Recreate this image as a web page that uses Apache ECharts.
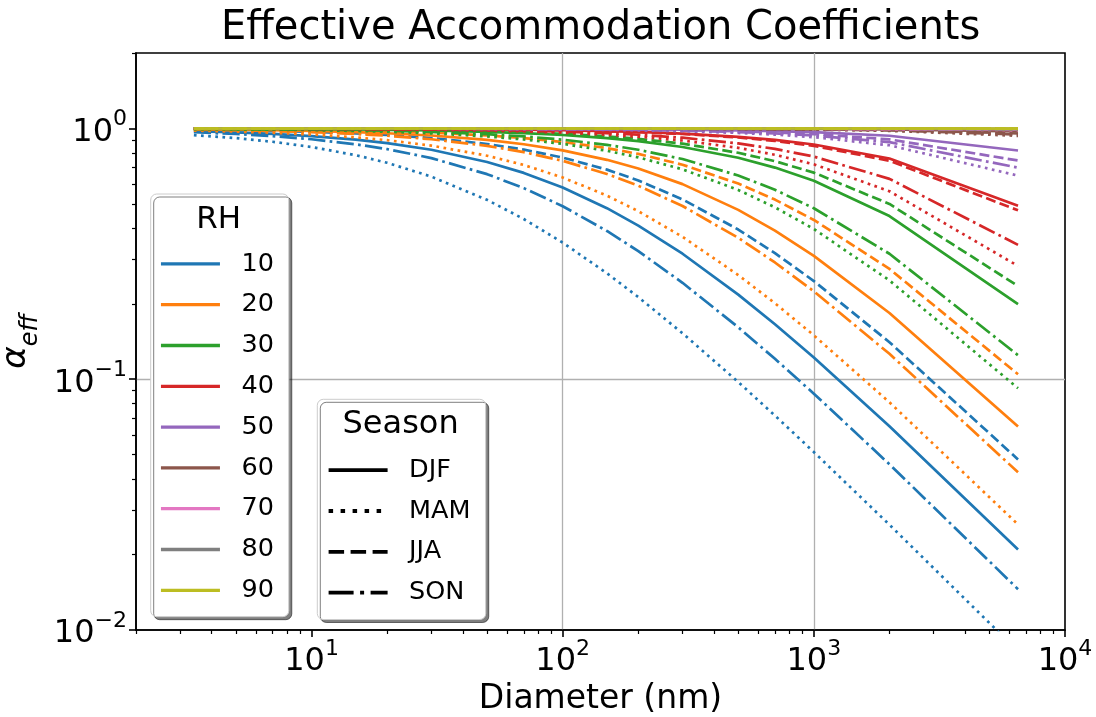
<!DOCTYPE html>
<html>
<head>
<meta charset="utf-8">
<script src="https://cdn.jsdelivr.net/npm/echarts@6/dist/echarts.min.js"></script>
<style>
html,body{margin:0;padding:0;background:#ffffff;}
#chart{width:1096px;height:717px;}
</style>
</head>
<body>
<div id="chart"></div>
<script>
// ---------------- data ----------------
const diameters = [3.4, 5, 7, 10, 15, 20, 30, 50, 70, 100, 150, 200, 300, 500, 700, 1000, 2000, 6500];
const rhLevels = ['10', '20', '30', '40', '50', '60', '70', '80', '90'];
const seasons = ['DJF', 'MAM', 'JJA', 'SON'];

const xTickValues = [10, 100, 1000, 10000];
const xTickExps = ['1', '2', '3', '4'];
const xMinorValues = [2, 3, 4, 5, 6, 7, 8, 9, 20, 30, 40, 50, 60, 70, 80, 90, 200, 300, 400, 500, 600, 700, 800, 900, 2000, 3000, 4000, 5000, 6000, 7000, 8000, 9000];
const yTickValues = [0.01, 0.1, 1];
const yTickExps = ['\u22122', '\u22121', '0'];
const yMinorValues = [0.02, 0.03, 0.04, 0.05, 0.06, 0.07, 0.08, 0.09, 0.2, 0.3, 0.4, 0.5, 0.6, 0.7, 0.8, 0.9, 2];

const rh10_DJF = [0.9761, 0.9653, 0.9521, 0.9329, 0.9026, 0.8742, 0.8225, 0.7354, 0.6651, 0.5816, 0.4810, 0.4100, 0.3166, 0.2175, 0.1657, 0.1220, 0.06499, 0.02094];
const rh10_MAM = [0.9408, 0.9153, 0.8852, 0.8438, 0.7826, 0.7297, 0.6429, 0.5192, 0.4355, 0.3506, 0.2647, 0.2126, 0.1525, 0.09747, 0.07163, 0.05123, 0.02629, 0.008237];
const rh10_JJA = [0.9897, 0.9849, 0.9790, 0.9703, 0.9561, 0.9424, 0.9160, 0.8674, 0.8237, 0.7658, 0.6855, 0.6205, 0.5215, 0.3954, 0.3184, 0.2464, 0.1405, 0.04789];
const rh10_SON = [0.9658, 0.9505, 0.9320, 0.9057, 0.8649, 0.8276, 0.7619, 0.6575, 0.5783, 0.4898, 0.3902, 0.3243, 0.2424, 0.1611, 0.1206, 0.08759, 0.04580, 0.01455];

const rh20_DJF = [0.9925, 0.9890, 0.9847, 0.9783, 0.9677, 0.9574, 0.9375, 0.9000, 0.8654, 0.8182, 0.7500, 0.6923, 0.6000, 0.4737, 0.3913, 0.3103, 0.1837, 0.06475];
const rh20_MAM = [0.9810, 0.9724, 0.9618, 0.9462, 0.9215, 0.8980, 0.8544, 0.7788, 0.7154, 0.6377, 0.5399, 0.4681, 0.3697, 0.2604, 0.2009, 0.1497, 0.08090, 0.02636];
const rh20_JJA = [0.9955, 0.9935, 0.9909, 0.9870, 0.9806, 0.9744, 0.9620, 0.9383, 0.9157, 0.8837, 0.8352, 0.7917, 0.7170, 0.6032, 0.5205, 0.4318, 0.2754, 0.1047];
const rh20_SON = [0.9884, 0.9830, 0.9764, 0.9666, 0.9507, 0.9353, 0.9060, 0.8525, 0.8050, 0.7429, 0.6583, 0.5910, 0.4907, 0.3663, 0.2922, 0.2242, 0.1263, 0.04257];

const rh30_DJF = [0.9979, 0.9969, 0.9957, 0.9939, 0.9908, 0.9878, 0.9818, 0.9701, 0.9586, 0.9419, 0.9153, 0.8901, 0.8438, 0.7642, 0.6983, 0.6183, 0.4475, 0.1995];
const rh30_MAM = [0.9949, 0.9925, 0.9895, 0.9851, 0.9777, 0.9705, 0.9565, 0.9295, 0.9040, 0.8683, 0.8146, 0.7672, 0.6872, 0.5686, 0.4849, 0.3973, 0.2478, 0.09206];
const rh30_JJA = [0.9983, 0.9975, 0.9965, 0.9950, 0.9926, 0.9901, 0.9852, 0.9756, 0.9662, 0.9524, 0.9302, 0.9091, 0.8696, 0.8000, 0.7407, 0.6667, 0.5000, 0.2353];
const rh30_SON = [0.9963, 0.9946, 0.9925, 0.9893, 0.9841, 0.9789, 0.9686, 0.9488, 0.9297, 0.9025, 0.8606, 0.8224, 0.7553, 0.6494, 0.5695, 0.4808, 0.3165, 0.1247];

const rh40_DJF = [0.9995, 0.9992, 0.9989, 0.9984, 0.9976, 0.9968, 0.9953, 0.9921, 0.9890, 0.9844, 0.9767, 0.9692, 0.9545, 0.9265, 0.9000, 0.8630, 0.7590, 0.4922];
const rh40_MAM = [0.9987, 0.9981, 0.9973, 0.9961, 0.9942, 0.9923, 0.9884, 0.9809, 0.9734, 0.9625, 0.9448, 0.9277, 0.8953, 0.8369, 0.7857, 0.7196, 0.5620, 0.2830];
const rh40_JJA = [0.9994, 0.9991, 0.9988, 0.9983, 0.9974, 0.9966, 0.9949, 0.9915, 0.9881, 0.9831, 0.9748, 0.9667, 0.9508, 0.9206, 0.8923, 0.8529, 0.7436, 0.4715];
const rh40_SON = [0.9990, 0.9985, 0.9979, 0.9971, 0.9956, 0.9942, 0.9913, 0.9855, 0.9798, 0.9714, 0.9577, 0.9444, 0.9189, 0.8718, 0.8293, 0.7727, 0.6296, 0.3434];

const rh50_DJF = [0.9999, 0.9998, 0.9998, 0.9997, 0.9995, 0.9993, 0.9990, 0.9983, 0.9976, 0.9966, 0.9949, 0.9932, 0.9898, 0.9831, 0.9764, 0.9667, 0.9355, 0.8169];
const rh50_MAM = [0.9997, 0.9996, 0.9994, 0.9992, 0.9988, 0.9983, 0.9975, 0.9959, 0.9942, 0.9917, 0.9877, 0.9836, 0.9756, 0.9600, 0.9449, 0.9231, 0.8571, 0.6486];
const rh50_JJA = [0.9998, 0.9997, 0.9996, 0.9995, 0.9992, 0.9989, 0.9984, 0.9974, 0.9963, 0.9948, 0.9922, 0.9896, 0.9845, 0.9744, 0.9645, 0.9500, 0.9048, 0.7451];
const rh50_SON = [0.9998, 0.9997, 0.9995, 0.9993, 0.9990, 0.9987, 0.9980, 0.9967, 0.9954, 0.9934, 0.9901, 0.9868, 0.9804, 0.9677, 0.9554, 0.9375, 0.8824, 0.6977];

const rh60_DJF = [1.0, 1.0, 1.0, 1.0, 0.9999, 0.9999, 0.9999, 0.9998, 0.9997, 0.9996, 0.9994, 0.9992, 0.9988, 0.9980, 0.9972, 0.9960, 0.9921, 0.9747];
const rh60_MAM = [1.0, 0.9999, 0.9999, 0.9999, 0.9998, 0.9998, 0.9997, 0.9995, 0.9992, 0.9989, 0.9984, 0.9979, 0.9968, 0.9947, 0.9925, 0.9894, 0.9789, 0.9347];
const rh60_JJA = [1.0, 1.0, 1.0, 0.9999, 0.9999, 0.9999, 0.9998, 0.9996, 0.9995, 0.9993, 0.9989, 0.9986, 0.9978, 0.9964, 0.9950, 0.9928, 0.9857, 0.9550];
const rh60_SON = [1.0, 1.0, 0.9999, 0.9999, 0.9999, 0.9998, 0.9997, 0.9996, 0.9994, 0.9991, 0.9987, 0.9983, 0.9974, 0.9957, 0.9940, 0.9914, 0.9829, 0.9465];

const rh70_DJF = [1.0, 1.0, 1.0, 1.0, 1.0, 1.0, 1.0, 1.0, 0.9999, 0.9999, 0.9998, 0.9998, 0.9997, 0.9995, 0.9992, 0.9989, 0.9979, 0.9930];
const rh70_MAM = [1.0, 1.0, 1.0, 1.0, 1.0, 1.0, 0.9999, 0.9999, 0.9998, 0.9998, 0.9997, 0.9995, 0.9993, 0.9989, 0.9984, 0.9977, 0.9954, 0.9852];
const rh70_JJA = [1.0, 1.0, 1.0, 1.0, 1.0, 1.0, 1.0, 0.9999, 0.9999, 0.9998, 0.9997, 0.9997, 0.9995, 0.9992, 0.9988, 0.9983, 0.9966, 0.9891];
const rh70_SON = [1.0, 1.0, 1.0, 1.0, 1.0, 1.0, 1.0, 0.9999, 0.9999, 0.9998, 0.9997, 0.9996, 0.9994, 0.9990, 0.9986, 0.9980, 0.9960, 0.9872];

const rh80_DJF = [1.0, 1.0, 1.0, 1.0, 1.0, 1.0, 1.0, 1.0, 1.0, 1.0, 1.0, 1.0, 0.9999, 0.9998, 0.9997, 0.9995, 0.9991, 0.9970];
const rh80_MAM = [1.0, 1.0, 1.0, 1.0, 1.0, 1.0, 1.0, 1.0, 0.9999, 0.9999, 0.9998, 0.9998, 0.9997, 0.9995, 0.9992, 0.9989, 0.9979, 0.9930];
const rh80_JJA = [1.0, 1.0, 1.0, 1.0, 1.0, 1.0, 1.0, 1.0, 1.0, 0.9999, 0.9999, 0.9998, 0.9998, 0.9996, 0.9995, 0.9992, 0.9985, 0.9950];
const rh80_SON = [1.0, 1.0, 1.0, 1.0, 1.0, 1.0, 1.0, 1.0, 1.0, 0.9999, 0.9999, 0.9998, 0.9997, 0.9995, 0.9994, 0.9991, 0.9982, 0.9940];

const rh90_DJF = [1.0, 1.0, 1.0, 1.0, 1.0, 1.0, 1.0, 1.0, 1.0, 1.0, 1.0, 1.0, 1.0, 0.9999, 0.9999, 0.9998, 0.9997, 0.9990];
const rh90_MAM = [1.0, 1.0, 1.0, 1.0, 1.0, 1.0, 1.0, 1.0, 1.0, 1.0, 1.0, 1.0, 0.9999, 0.9998, 0.9997, 0.9995, 0.9991, 0.9970];
const rh90_JJA = [1.0, 1.0, 1.0, 1.0, 1.0, 1.0, 1.0, 1.0, 1.0, 1.0, 1.0, 0.9999, 0.9999, 0.9998, 0.9998, 0.9997, 0.9994, 0.9980];
const rh90_SON = [1.0, 1.0, 1.0, 1.0, 1.0, 1.0, 1.0, 1.0, 1.0, 1.0, 1.0, 0.9999, 0.9999, 0.9998, 0.9997, 0.9996, 0.9992, 0.9975];

// ---------------- styles ----------------
const FONT = '"DejaVu Sans", "Liberation Sans", sans-serif';
const rhColors = ['#1f77b4', '#ff7f0e', '#2ca02c', '#d62728', '#9467bd', '#8c564b', '#e377c2', '#7f7f7f', '#bcbd22'];
const LW = 2.7;
const seasonDash = {
  DJF: 'solid',
  MAM: [LW * 1.0, LW * 1.65],
  JJA: [LW * 3.7, LW * 1.6],
  SON: [LW * 6.4, LW * 1.6, LW * 1.0, LW * 1.6]
};
// legend handles are drawn thicker, so their dash pattern is longer
const legendDash = {
  DJF: 'solid',
  MAM: [4.5, 7.5],
  JJA: [15.5, 6.5],
  SON: [25, 6.5, 4, 6.5]
};

const valueTable = {
  '10': { DJF: rh10_DJF, MAM: rh10_MAM, JJA: rh10_JJA, SON: rh10_SON },
  '20': { DJF: rh20_DJF, MAM: rh20_MAM, JJA: rh20_JJA, SON: rh20_SON },
  '30': { DJF: rh30_DJF, MAM: rh30_MAM, JJA: rh30_JJA, SON: rh30_SON },
  '40': { DJF: rh40_DJF, MAM: rh40_MAM, JJA: rh40_JJA, SON: rh40_SON },
  '50': { DJF: rh50_DJF, MAM: rh50_MAM, JJA: rh50_JJA, SON: rh50_SON },
  '60': { DJF: rh60_DJF, MAM: rh60_MAM, JJA: rh60_JJA, SON: rh60_SON },
  '70': { DJF: rh70_DJF, MAM: rh70_MAM, JJA: rh70_JJA, SON: rh70_SON },
  '80': { DJF: rh80_DJF, MAM: rh80_MAM, JJA: rh80_JJA, SON: rh80_SON },
  '90': { DJF: rh90_DJF, MAM: rh90_MAM, JJA: rh90_JJA, SON: rh90_SON }
};

const series = [];
rhLevels.forEach(function (rh, i) {
  seasons.forEach(function (s) {
    const vals = valueTable[rh][s];
    series.push({
      type: 'line',
      name: 'RH' + rh + ' ' + s,
      data: diameters.map(function (d, k) { return [d, vals[k]]; }),
      symbol: 'none',
      silent: true,
      clip: true,
      lineStyle: { color: rhColors[i], width: LW, type: seasonDash[s], cap: 'butt' },
      itemStyle: { color: rhColors[i] },
      z: 2
    });
  });
});
// legend handle series (no data)
rhLevels.forEach(function (rh, i) {
  series.push({
    type: 'line', name: rh, data: [], symbol: 'none',
    lineStyle: { color: rhColors[i], width: 3.3, type: 'solid' },
    itemStyle: { color: rhColors[i] }
  });
});
seasons.forEach(function (s) {
  series.push({
    type: 'line', name: s, data: [], symbol: 'none',
    lineStyle: { color: '#000000', width: 3.8, type: legendDash[s], cap: 'butt' },
    itemStyle: { color: '#000000' }
  });
});

function powLabel(values, exps) {
  return function (v) {
    let idx = 0, best = Infinity;
    values.forEach(function (t, k) {
      const d = Math.abs(Math.log10(v) - Math.log10(t));
      if (d < best) { best = d; idx = k; }
    });
    return '{b|10}{s|' + exps[idx] + '}';
  };
}
const tickRich = {
  b: { fontSize: 32, fontFamily: FONT, color: '#000', lineHeight: 40, verticalAlign: 'bottom' },
  s: { fontSize: 22, fontFamily: FONT, color: '#000', lineHeight: 22, verticalAlign: 'top' }
};

const legendCommon = {
  orient: 'vertical',
  itemWidth: 59,
  itemHeight: 14,
  itemGap: 0,
  selectedMode: false,
  backgroundColor: '#ffffff',
  borderColor: '#cccccc',
  borderWidth: 1,
  borderRadius: 6,
  shadowColor: 'rgba(0,0,0,0.5)',
  shadowBlur: 0,
  shadowOffsetX: 3,
  shadowOffsetY: 3,
  itemStyle: { opacity: 0, color: 'rgba(0,0,0,0)', borderWidth: 0, borderColor: 'rgba(0,0,0,0)' },
  formatter: function (name) { return '{t|' + name + '}'; },
  textStyle: {
    color: '#000', fontSize: 25.5, fontFamily: FONT, lineHeight: 40.8,
    rich: { t: { color: '#000', fontSize: 25.5, fontFamily: FONT, lineHeight: 40.8, padding: [0, 0, 0, 16.5] } }
  }
};

const option = {
  animation: false,
  backgroundColor: '#ffffff',
  title: {
    text: 'Effective Accommodation Coefficients',
    left: 216,
    top: 4,
    textStyle: { fontSize: 40, fontWeight: 'normal', color: '#000', fontFamily: FONT }
  },
  grid: {
    left: 136, right: 31, top: 53, bottom: 87,
    show: true, borderColor: '#000', borderWidth: 1.6, backgroundColor: 'transparent',
    containLabel: false, outerBoundsMode: 'none'
  },
  xAxis: [
    {
      type: 'log', logBase: 10, min: 2, max: 10000, position: 'bottom',
      axisLine: { show: true, lineStyle: { color: '#000', width: 1.6 } },
      axisTick: { show: true, customValues: xTickValues, length: 7, lineStyle: { color: '#000', width: 1.6 } },
      axisLabel: { show: true, customValues: xTickValues, margin: 8, formatter: powLabel(xTickValues, xTickExps), rich: tickRich },
      splitLine: { show: true, showMinLine: false, showMaxLine: false, lineStyle: { color: '#b0b0b0', width: 1.3 } },
      minorTick: { show: false }, minorSplitLine: { show: false },
      name: 'Diameter (nm)', nameLocation: 'middle', nameGap: 50,
      nameTextStyle: { fontSize: 33, color: '#000', fontFamily: FONT }
    },
    {
      type: 'log', logBase: 10, min: 2, max: 10000, position: 'bottom',
      axisLine: { show: false },
      axisTick: { show: true, customValues: xMinorValues, length: 4, lineStyle: { color: '#000', width: 1.2 } },
      axisLabel: { show: false },
      splitLine: { show: false }
    }
  ],
  yAxis: [
    {
      type: 'log', logBase: 10, min: 0.01, max: 2, position: 'left',
      axisLine: { show: true, lineStyle: { color: '#000', width: 1.6 } },
      axisTick: { show: true, customValues: yTickValues, length: 7, lineStyle: { color: '#000', width: 1.6 } },
      axisLabel: { show: true, customValues: yTickValues, margin: 9, formatter: powLabel(yTickValues, yTickExps), rich: tickRich },
      splitLine: { show: true, showMinLine: false, showMaxLine: false, lineStyle: { color: '#b0b0b0', width: 1.3 } },
      name: '{a|\u03b1}{s|eff}', nameLocation: 'middle', nameRotate: 90, nameGap: 84,
      nameTextStyle: {
        color: '#000', fontFamily: FONT,
        rich: {
          a: { fontSize: 34, fontStyle: 'italic', fontFamily: FONT, color: '#000', lineHeight: 44, verticalAlign: 'top' },
          s: { fontSize: 24, fontStyle: 'italic', fontFamily: FONT, color: '#000', lineHeight: 24, verticalAlign: 'bottom' }
        }
      }
    },
    {
      type: 'log', logBase: 10, min: 0.01, max: 2, position: 'left',
      axisLine: { show: false },
      axisTick: { show: true, customValues: yMinorValues, length: 4, lineStyle: { color: '#000', width: 1.2 } },
      axisLabel: { show: false },
      splitLine: { show: false }
    }
  ],
  legend: [
    Object.assign({}, legendCommon, {
      data: rhLevels,
      left: 150.7, top: 194,
      padding: [49.5, 14.9, 6, 8.6],
      lineStyle: { width: 3.3 }
    }),
    Object.assign({}, legendCommon, {
      data: seasons,
      left: 317.3, top: 399.3,
      padding: [50.5, 15.2, 6.5, 9.4],
      lineStyle: { width: 3.8 }
    })
  ],
  graphic: [
    { type: 'text', x: 218.7, y: 220, z: 100, style: { text: 'RH', fontSize: 31, fontFamily: FONT, fill: '#000', align: 'center', verticalAlign: 'middle' } },
    { type: 'text', x: 400.6, y: 425, z: 100, style: { text: 'Season', fontSize: 32, fontFamily: FONT, fill: '#000', align: 'center', verticalAlign: 'middle' } }
  ],
  series: series
};

const chart = echarts.init(document.getElementById('chart'), null, { renderer: 'canvas' });
chart.setOption(option);
</script>
</body>
</html>
